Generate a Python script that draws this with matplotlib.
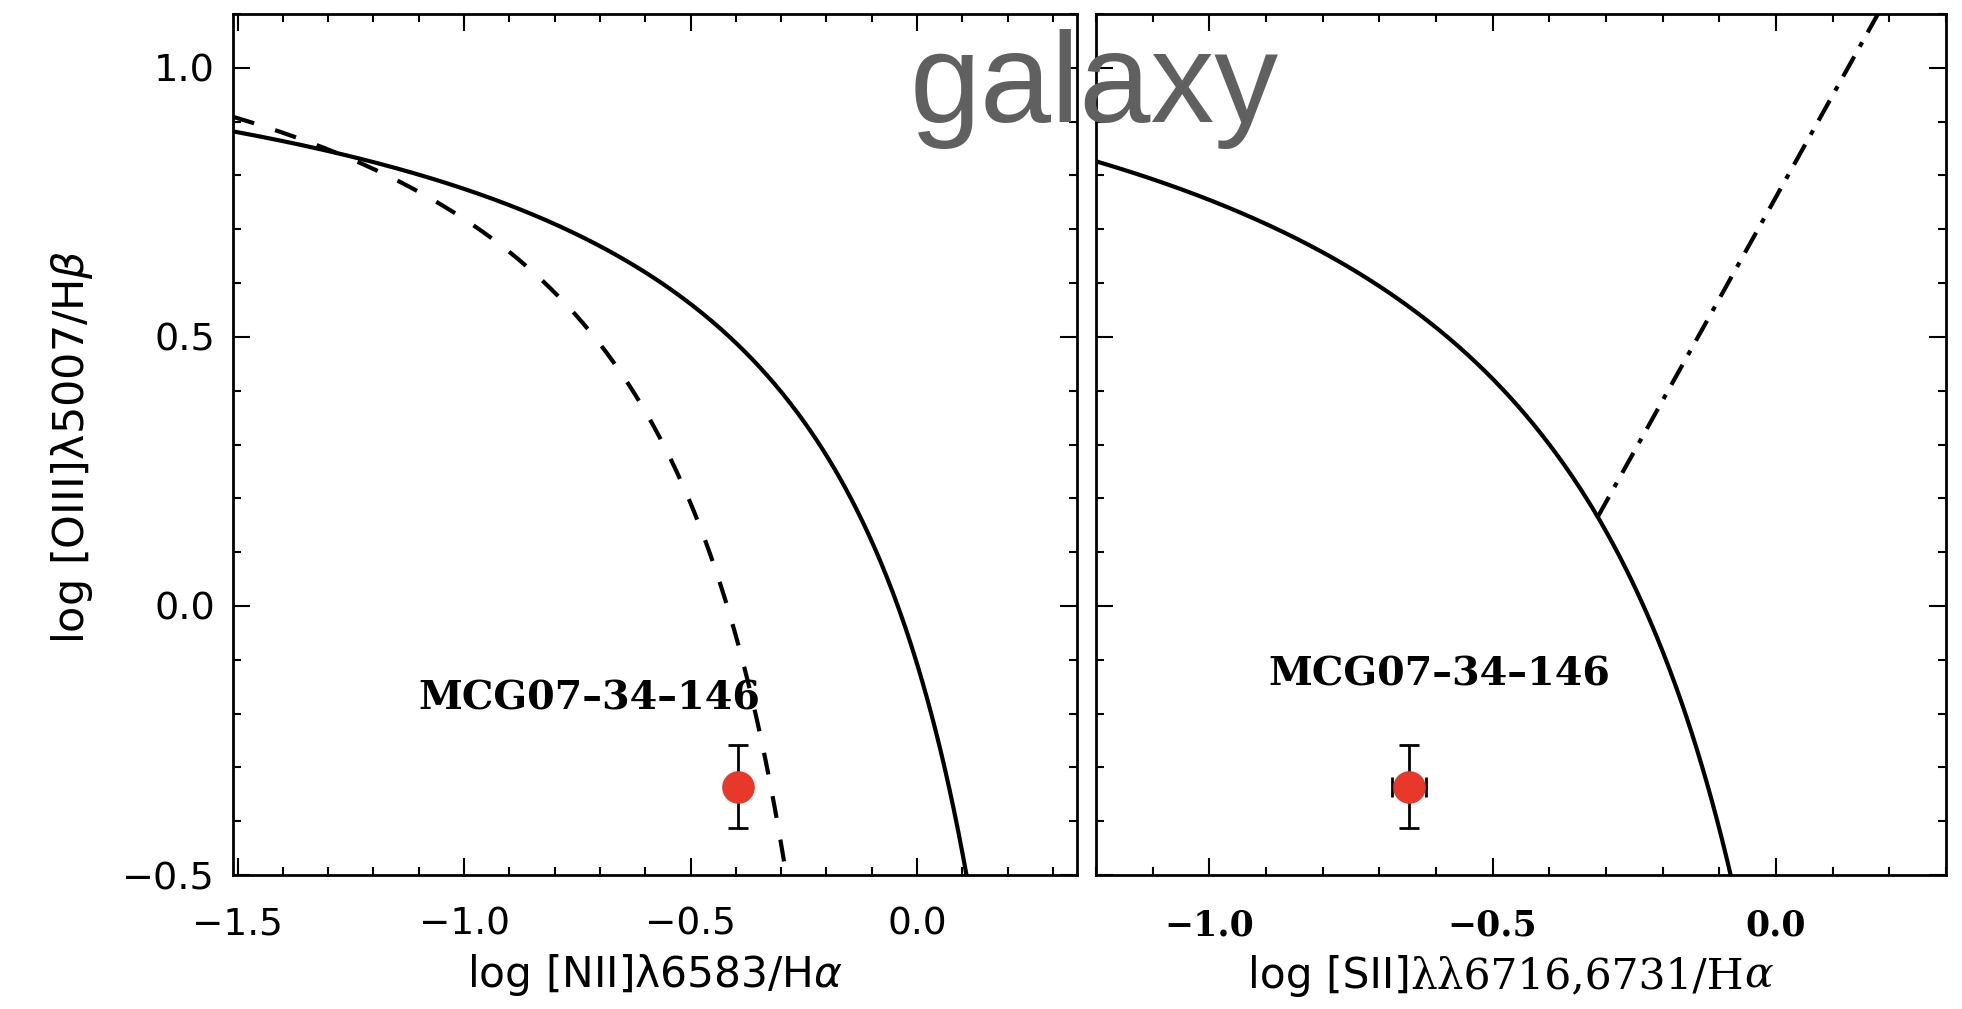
import numpy as np
import matplotlib
matplotlib.use("Agg")
import matplotlib.pyplot as plt
from matplotlib.ticker import FixedLocator, FixedFormatter, MultipleLocator

plt.rcParams['mathtext.fontset'] = 'dejavusans'

# ---------------- data ----------------
sample_name = "MCG07\u201334\u2013146"
# left panel point: log [NII]/Ha vs log [OIII]/Hb
nii_ha = [-0.395]
oiii_hb = [-0.336]
oiii_err = [0.077]
# right panel point: log [SII]/Ha
sii_ha = [-0.647]
sii_err = [0.030]

# demarcation lines: y = a / (x - b) + c
kewley01_nii = [0.61, 0.47, 1.19]
kauffmann03_nii = [0.61, 0.05, 1.30]
kewley01_sii = [0.72, 0.32, 1.30]
# Seyfert / LINER line: y = m * x + q
kewley06_sii = [1.89, 0.76]

left_xticks = [-1.5, -1.0, -0.5, 0.0]
left_xticklabels = ['\u22121.5', '\u22121.0', '\u22120.5', '0.0']
right_xticks = [-1.0, -0.5, 0.0]
right_xticklabels = ['\u22121.0', '\u22120.5', '0.0']
yticks = [-0.5, 0.0, 0.5, 1.0]
yticklabels = ['\u22120.5', '0.0', '0.5', '1.0']

left_xlim = (-1.51, 0.353)
right_xlim = (-1.2, 0.3)
ylim = (-0.5, 1.1)


def hyper(coef, x):
    a, b, c = coef
    return a / (x - b) + c


W, H = 1962, 1009
fig = plt.figure(figsize=(W / 100, H / 100), dpi=100)
ax1 = fig.add_axes([233 / W, 134 / H, 844 / W, 861 / H])
ax2 = fig.add_axes([1096 / W, 134 / H, 850 / W, 861 / H])

LW = 3.0
red = '#e8382a'

# ---------- left panel ----------
x_k01 = np.linspace(left_xlim[0], 0.12, 500)
ax1.plot(x_k01, hyper(kewley01_nii, x_k01), color='black', lw=LW)
x_k03 = np.linspace(left_xlim[0], -0.28, 500)
ax1.plot(x_k03, hyper(kauffmann03_nii, x_k03), color='black', lw=LW,
         linestyle=(0, (5.3, 5.3)))

ax1.errorbar(nii_ha, oiii_hb, yerr=oiii_err, fmt='none', ecolor='black',
             elinewidth=2.0, capsize=7.5, capthick=2.0, zorder=3)
ax1.plot(nii_ha, oiii_hb, 'o', color=red, markersize=23.5, markeredgewidth=0, zorder=4)
ax1.text(-0.724, -0.172, sample_name, family='DejaVu Serif', fontsize=28.5,
         fontweight='bold', ha='center', va='center')

# ---------- right panel ----------
x_s01 = np.linspace(right_xlim[0], -0.07, 500)
ax2.plot(x_s01, hyper(kewley01_sii, x_s01), color='black', lw=LW)
# intersection of the Seyfert/LINER line with the Kewley curve
m, q = kewley06_sii
a, b, c = kewley01_sii
roots = np.roots([m, (q - c) - m * b, -(q - c) * b - a])
x0 = float(np.min(roots.real))
x_sl = np.linspace(x0, 0.2, 200)
ax2.plot(x_sl, m * x_sl + q, color='black', lw=LW,
         linestyle=(0, (5.5, 2.7, 1.2, 2.7)))

ax2.errorbar(sii_ha, oiii_hb, xerr=sii_err, yerr=oiii_err, fmt='none', ecolor='black',
             elinewidth=2.0, capsize=7.5, capthick=2.0, zorder=3)
ax2.plot(sii_ha, oiii_hb, 'o', color=red, markersize=23.5, markeredgewidth=0, zorder=4)
ax2.text(-0.595, -0.128, sample_name, family='DejaVu Serif', fontsize=28.5,
         fontweight='bold', ha='center', va='center')

# ---------- axes styling ----------
for ax, xl in ((ax1, left_xlim), (ax2, right_xlim)):
    ax.set_xlim(*xl)
    ax.set_ylim(*ylim)
    for sp in ax.spines.values():
        sp.set_linewidth(2.0)
    ax.tick_params(which='both', direction='in', top=True, right=True,
                   width=1.5, color='black')
    ax.tick_params(which='major', length=12.2)
    ax.tick_params(which='minor', length=6.0)
    ax.xaxis.set_minor_locator(MultipleLocator(0.1))
    ax.yaxis.set_major_locator(FixedLocator(yticks))
    ax.yaxis.set_minor_locator(MultipleLocator(0.1))

ax1.xaxis.set_major_locator(FixedLocator(left_xticks))
ax1.xaxis.set_major_formatter(FixedFormatter(left_xticklabels))
ax1.yaxis.set_major_formatter(FixedFormatter(yticklabels))
ax1.tick_params(axis='x', which='major', pad=23, labelsize=27)
ax1.tick_params(axis='y', which='major', pad=13, labelsize=27.5)
for lab in ax1.get_xticklabels() + ax1.get_yticklabels():
    lab.set_family('DejaVu Sans')

ax2.xaxis.set_major_locator(FixedLocator(right_xticks))
ax2.xaxis.set_major_formatter(FixedFormatter(right_xticklabels))
ax2.tick_params(axis='y', which='both', labelleft=False)
ax2.tick_params(axis='x', which='major', pad=24, labelsize=25)
for lab in ax2.get_xticklabels():
    lab.set_family('DejaVu Serif')
    lab.set_fontweight('bold')

# ---------- axis labels ----------
fig.text(655 / W, (H - 987) / H, 'log [NII]\u03bb6583/H$\\alpha$',
         family='DejaVu Sans', fontsize=30.5, ha='center', va='baseline')
fig.text(72 / W, (H - 447) / H, 'log [OIII]\u03bb5007/H$\\beta$',
         family='DejaVu Sans', fontsize=31, ha='center', va='center', rotation=90)

t1 = fig.text(1248 / W, (H - 997) / H, 'log [SII]', family='DejaVu Sans',
              fontsize=30.5, ha='left', va='bottom')
t2 = ax2.annotate('\u03bb\u03bb6716,6731/H', xy=(1, 0), xycoords=t1, ha='left',
                  va='bottom', family='DejaVu Serif', fontsize=30.5,
                  annotation_clip=False)
t3 = ax2.annotate('\u03b1', xy=(1, 0), xycoords=t2, ha='left', va='bottom',
                  family='DejaVu Serif', style='italic', fontsize=30.5,
                  annotation_clip=False)

# ---------- title ----------
fig.text(1094.5 / W, (H - 122) / H, 'galaxy', family='Liberation Sans',
         fontsize=92, color='#606060', ha='center', va='baseline', zorder=10)

fig.savefig('out.png', dpi=100)
